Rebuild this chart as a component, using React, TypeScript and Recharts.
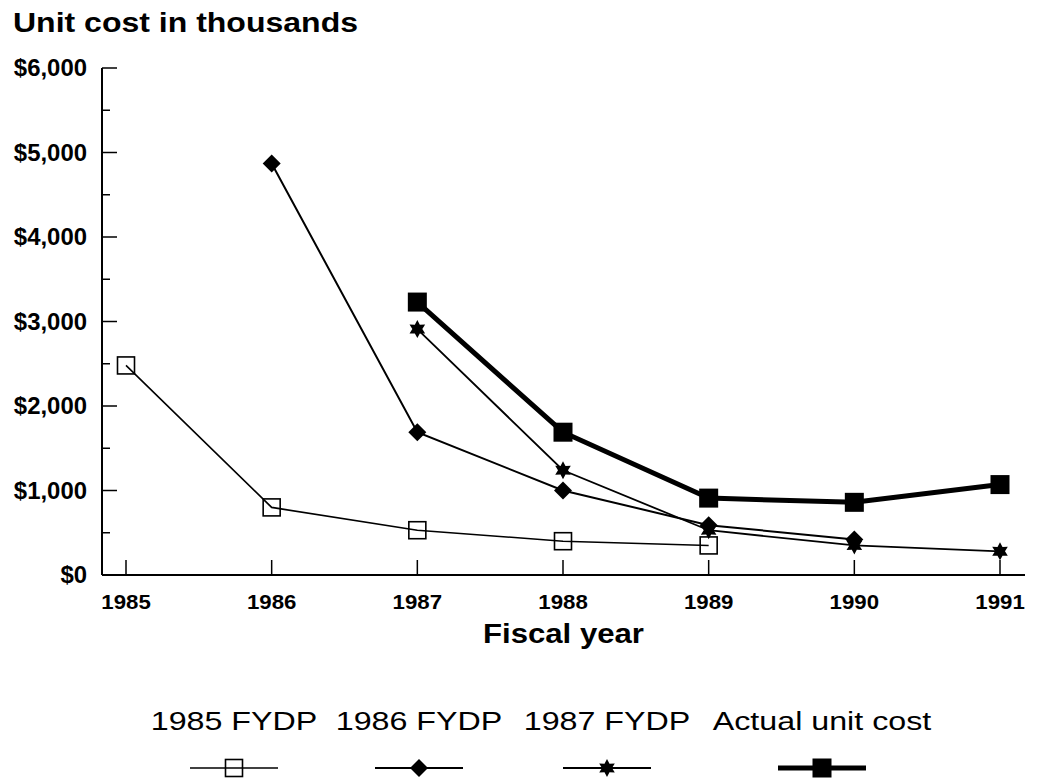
import { LineChart, Line, XAxis, YAxis } from "recharts";

const years = [1985, 1986, 1987, 1988, 1989, 1990, 1991];
const fydp1985 = [2480, 800, 530, 400, 350, null, null];
const fydp1986 = [null, 4870, 1690, 1000, 590, 420, null];
const fydp1987 = [null, null, 2910, 1240, 530, 350, 280];
const actualCost = [null, null, 3230, 1690, 910, 860, 1070];
const yTicks = [0, 500, 1000, 1500, 2000, 2500, 3000, 3500, 4000, 4500, 5000, 5500, 6000];

const data = years.map((year, i) => ({
  year,
  fydp1985: fydp1985[i],
  fydp1986: fydp1986[i],
  fydp1987: fydp1987[i],
  actual: actualCost[i],
}));

const FONT = "'Liberation Sans', Arial, Helvetica, sans-serif";

type Kind = "open" | "diamond" | "star" | "square";

const series: { key: string; name: string; width: number; kind: Kind; cx: number }[] = [
  { key: "fydp1985", name: "1985 FYDP", width: 1.6, kind: "open", cx: 226 },
  { key: "fydp1986", name: "1986 FYDP", width: 2, kind: "diamond", cx: 411 },
  { key: "fydp1987", name: "1987 FYDP", width: 1.8, kind: "star", cx: 599 },
  { key: "actual", name: "Actual unit cost", width: 5, kind: "square", cx: 814 },
];

function starPath(cx: number, cy: number, R: number, r: number) {
  const pts: string[] = [];
  for (let i = 0; i < 12; i++) {
    const a = -Math.PI / 2 + (i * Math.PI) / 6;
    const rad = i % 2 === 0 ? R : r;
    pts.push(`${(cx + rad * Math.cos(a)).toFixed(2)},${(cy + rad * Math.sin(a)).toFixed(2)}`);
  }
  return "M" + pts.join("L") + "Z";
}

function Marker({ kind, cx, cy }: { kind: Kind; cx: number; cy: number }) {
  switch (kind) {
    case "open":
      return <rect x={cx - 8.5} y={cy - 8.5} width={17} height={17} fill="none" stroke="#000" strokeWidth={1.6} />;
    case "diamond":
      return <path d={`M${cx},${cy - 9}L${cx + 9},${cy}L${cx},${cy + 9}L${cx - 9},${cy}Z`} fill="#000" />;
    case "star":
      return <path d={starPath(cx, cy, 9, 5)} fill="#000" />;
    default:
      return <rect x={cx - 9.5} y={cy - 9.5} width={19} height={19} fill="#000" />;
  }
}

const dotFor = (kind: Kind) => (props: any) => {
  const { cx, cy, index, value } = props;
  if (value == null || cx == null || cy == null) return <g key={`${kind}-${index}`} />;
  return (
    <g key={`${kind}-${index}`}>
      <Marker kind={kind} cx={cx} cy={cy} />
    </g>
  );
};

const YTick = (props: any) => {
  const { x, y, payload } = props;
  const major = payload.value % 1000 === 0;
  return (
    <g>
      <line x1={x} x2={x + (major ? 15 : 8)} y1={y} y2={y} stroke="#000" strokeWidth={1.5} />
      {major && (
        <g transform={`translate(${x - 15},${y + 8}) scale(1.04,1)`}>
          <text textAnchor="end" fontSize={23} fontWeight="bold" fontFamily={FONT} fill="#000">
            {"$" + payload.value.toLocaleString("en-US")}
          </text>
        </g>
      )}
    </g>
  );
};

const XTick = (props: any) => {
  const { x, y, payload } = props;
  return (
    <g>
      <line x1={x} x2={x} y1={y} y2={y - 15} stroke="#000" strokeWidth={1.5} />
      <g transform={`translate(${x},${y + 34}) scale(1.06,1)`}>
        <text textAnchor="middle" fontSize={21} fontWeight="bold" fontFamily={FONT} fill="#000">
          {payload.value}
        </text>
      </g>
    </g>
  );
};

export default function App() {
  return (
    <div style={{ position: "relative", width: 1031, height: 772, background: "#fff" }}>
      <LineChart
        width={1031}
        height={772}
        data={data}
        margin={{ top: 60, right: 14, left: 0, bottom: 165 }}
      >
        <XAxis
          type="number"
          dataKey="year"
          domain={[1985, 1991]}
          ticks={years}
          padding={{ left: 24, right: 25 }}
          tickSize={0}
          tickMargin={0}
          tick={XTick}
          height={40}
          axisLine={{ stroke: "#000", strokeWidth: 2 }}
        />
        <YAxis
          domain={[0, 6000]}
          ticks={yTicks}
          width={94}
          tickSize={0}
          tickMargin={0}
          tick={YTick}
          interval={0}
          axisLine={{ stroke: "#000", strokeWidth: 2 }}
        />
        {series.map((s) => (
          <Line
            key={s.key}
            type="linear"
            dataKey={s.key}
            name={s.name}
            stroke="#000"
            strokeWidth={s.width}
            dot={dotFor(s.kind)}
            activeDot={false}
            isAnimationActive={false}
          />
        ))}
      </LineChart>
      <svg
        width={1031}
        height={772}
        style={{ position: "absolute", left: 0, top: 0, pointerEvents: "none" }}
        fontFamily={FONT}
      >
        <text x={5} y={24} fontSize={27} fontWeight="bold" textLength={345} lengthAdjust="spacingAndGlyphs">
          Unit cost in thousands
        </text>
        <text x={475} y={635} fontSize={28} fontWeight="bold" textLength={161} lengthAdjust="spacingAndGlyphs">
          Fiscal year
        </text>
        {series.map((s) => (
          <g key={s.key}>
            <g transform={`translate(${s.cx},722) scale(1.24,1)`}>
              <text x={0} y={0} fontSize={26} textAnchor="middle">
                {s.name}
              </text>
            </g>
            <line x1={s.cx - 44} x2={s.cx + 44} y1={760} y2={760} stroke="#000" strokeWidth={s.width} />
            <Marker kind={s.kind} cx={s.cx} cy={760} />
          </g>
        ))}
      </svg>
    </div>
  );
}
